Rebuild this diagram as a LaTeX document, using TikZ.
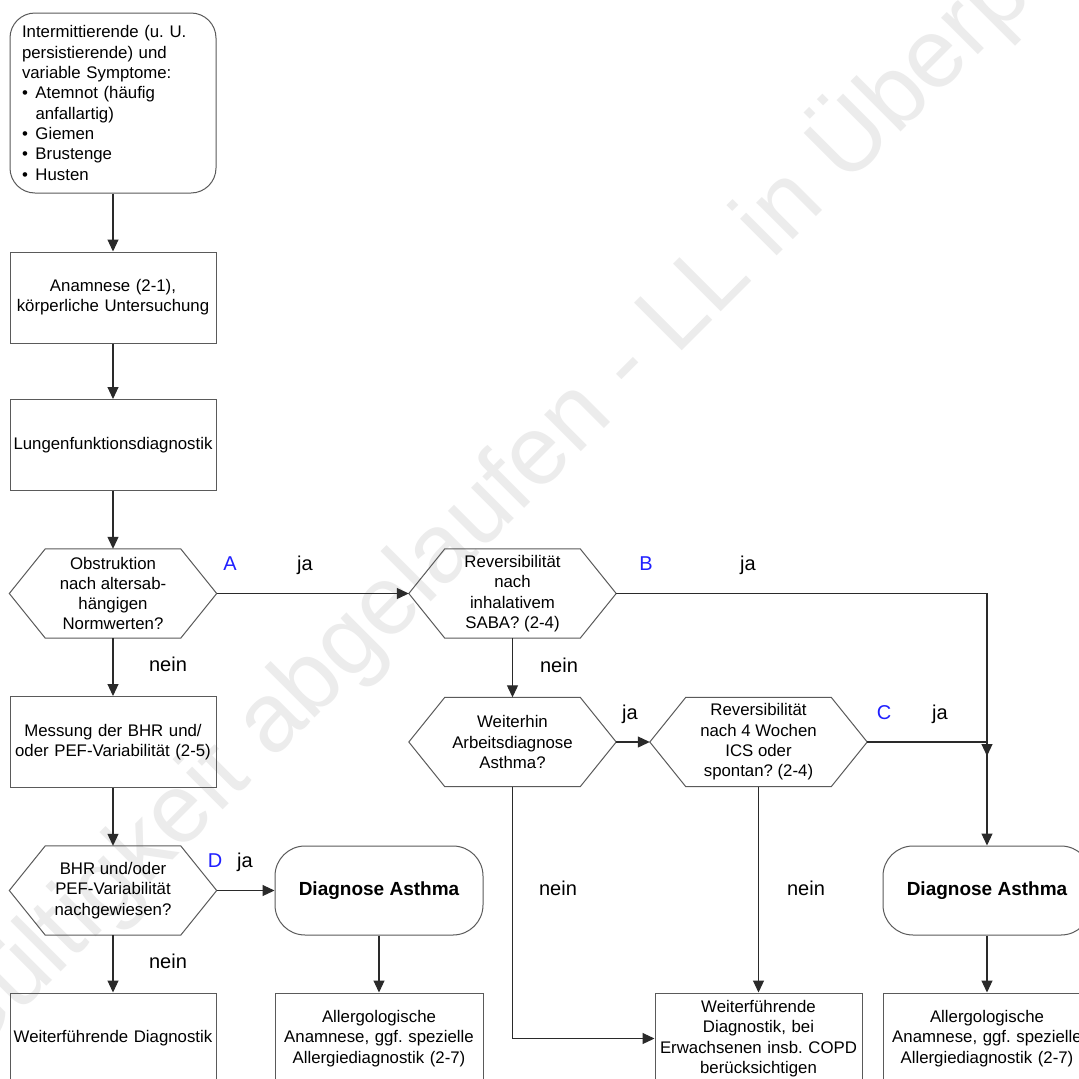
\documentclass[tikz,border=0pt]{standalone}
\usepackage{fontspec}
\setmainfont{Liberation Sans}
\usetikzlibrary{arrows.meta}
\definecolor{bordercol}{HTML}{5A5A5A}
\definecolor{linecol}{HTML}{2A2A2A}
\definecolor{wmcol}{HTML}{ECECEC}
\definecolor{letcol}{HTML}{1F1FFF}
\newcommand{\bfnt}{\fontsize{16.8}{20.3}\selectfont}
\newcommand{\blt}{\makebox[13.5pt][l]{\textbullet}}
\frenchspacing
\begin{document}
\begin{tikzpicture}[x=1pt,y=-1pt,
  wm/.style={text=wmcol,font=\fontsize{98}{98}\selectfont,rotate=45,anchor=base west,inner sep=0pt},
  box/.style={draw=bordercol,line width=1pt,minimum width=206pt,minimum height=91pt,inner sep=0pt,text width=204pt,align=center,font=\bfnt},
  hexa/.style={minimum width=207pt,minimum height=89pt,inner sep=0pt,align=center,font=\bfnt},
  hexline/.style={draw=bordercol,line width=1pt},
  term/.style={draw=bordercol,line width=1pt,rounded corners=30pt,minimum width=208pt,minimum height=89pt,inner sep=0pt,font=\fontsize{19}{22}\selectfont\bfseries},
  arr/.style={draw=linecol,line width=1.1pt,-{Triangle[length=12pt,width=11pt]}},
  lab/.style={font=\fontsize{20}{22}\selectfont,anchor=base,inner sep=0pt},
  letter/.style={lab,text=letcol}]
\useasboundingbox (0,0) rectangle (1079,1079);
\clip (0,0) rectangle (1079,1079);
\fill[white] (0,0) rectangle (1079,1079);
% watermark
\node[wm] (wmark) at (-36,1069) {Gültigkeit abgelaufen - LL in Überprüfung};
% nodes
\node[draw=bordercol,line width=1pt,rounded corners=25pt,minimum width=206pt,minimum height=180pt,inner xsep=12pt,inner ysep=0pt,text width=182pt,align=left,font=\bfnt] (sym) at (113,103)
 {Intermittierende (u. U.\\persistierende) und\\variable Symptome:\\\blt Atemnot (häufig\\\hspace*{13.5pt}anfallartig)\\\blt Giemen\\\blt Brustenge\\\blt Husten};
\node[box] (anam) at (113,297.5) {Anamnese (2-1),\\körperliche Untersuchung};
\node[box] (lung) at (113,445) {Lungenfunktionsdiagnostik};
\node[hexa] (h1) at (113,593.5) {Obstruktion\\nach altersab-\\hängigen\\Normwerten?};
\node[box] (mess) at (113,742) {Messung der BHR und/\\oder PEF-Variabilität (2-5)};
\node[hexa] (h4) at (113,890.5) {BHR und/oder\\PEF-Variabilität\\nachgewiesen?};
\node[box] (wd) at (113,1038.5) {Weiterführende Diagnostik};
\node[hexa] (h2) at (512.5,593.5) {Reversibilität\\nach\\inhalativem\\SABA? (2-4)};
\node[hexa] (h3) at (512.5,742) {Weiterhin\\Arbeitsdiagnose\\Asthma?};
\node[hexa,minimum width=217pt] (h5) at (758.5,742) {Reversibilität\\nach 4 Wochen\\ICS oder\\spontan? (2-4)};
\node[term] (da1) at (379,890.5) {Diagnose Asthma};
\node[box,minimum width=208pt] (al1) at (379,1038.5) {Allergologische\\Anamnese, ggf. spezielle\\Allergiediagnostik (2-7)};
\node[box,minimum width=207pt] (wd2) at (758.5,1038.5) {Weiterführende\\Diagnostik, bei\\Erwachsenen insb. COPD\\berücksichtigen};
\node[term] (da2) at (987,890.5) {Diagnose Asthma};
\node[box,minimum width=208pt] (al2) at (987,1038.5) {Allergologische\\Anamnese, ggf. spezielle\\Allergiediagnostik (2-7)};
% hexagon outlines
\foreach \n in {h1,h2,h3,h4,h5}
  \draw[hexline] (\n.west) -- ([xshift=36pt]\n.north west) -- ([xshift=-36pt]\n.north east) -- (\n.east) -- ([xshift=-36pt]\n.south east) -- ([xshift=36pt]\n.south west) -- cycle;
% coordinates
\coordinate (bturn) at (987,593.5);
\coordinate (bend) at (987,756);
% connectors
\draw[arr] (sym.south) -- (anam.north);
\draw[arr] (anam.south) -- (lung.north);
\draw[arr] (lung.south) -- (h1.north);
\draw[arr] (h1.east) -- (h2.west);
\draw[arr] (h1.south) -- (mess.north);
\draw[arr] (mess.south) -- (h4.north);
\draw[arr] (h4.south) -- (wd.north);
\draw[arr] (h4.east) -- (da1.west);
\draw[arr] (da1.south) -- (al1.north);
\draw[arr] (h2.south) -- (h3.north);
\draw[arr] (h3.east) -- (h5.west);
\draw[arr] (h2.east) -- (bturn) -- (bend);
\draw[arr] (h5.east) -| (da2.north);
\draw[arr] (h3.south) |- (wd2.west);
\draw[arr] (h5.south) -- (h5.south |- wd2.north);
\draw[arr] (da2.south) -- (al2.north);
% labels
\node[letter] (la) at (230,570) {A};
\node[lab] (ja1) at (305,570) {ja};
\node[letter] (lb) at (646,570) {B};
\node[lab] (ja2) at (748,570) {ja};
\node[lab] (ne1) at (168,671) {nein};
\node[lab] (ne2) at (559,672) {nein};
\node[lab] (ja3) at (630,719) {ja};
\node[letter] (lc) at (884,719) {C};
\node[lab] (ja4) at (940,719) {ja};
\node[letter] (ld) at (215,867) {D};
\node[lab] (ja5) at (245,867) {ja};
\node[lab] (ne3) at (168,968) {nein};
\node[lab] (ne4) at (558,895) {nein};
\node[lab] (ne5) at (806,895) {nein};
\end{tikzpicture}
\end{document}
